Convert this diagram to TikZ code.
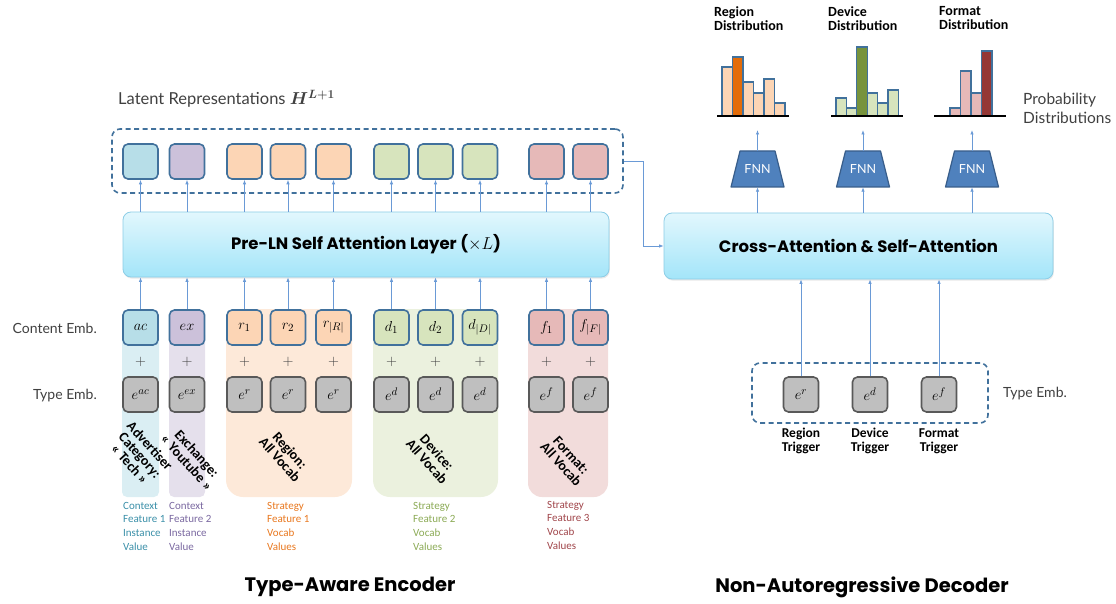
\documentclass[tikz,border=0pt]{standalone}
\usepackage{amsmath,bm}
\usepackage{fontspec}
\setmainfont{Carlito}
\newfontfamily\labfont{Lato}
\newfontfamily\headfont{Poppins}
\usetikzlibrary{arrows.meta,shapes.geometric,calc,shadows}
\definecolor{bordblue}{HTML}{41719C}
\definecolor{bordgray}{HTML}{595959}
\definecolor{graybox}{HTML}{BFBFBF}
\definecolor{cblue}{HTML}{B7DEE8}
\definecolor{cpurple}{HTML}{CCC1DA}
\definecolor{corange}{HTML}{FCD5B5}
\definecolor{cgreen}{HTML}{D7E4BD}
\definecolor{cpink}{HTML}{E6B9B8}
\definecolor{sblue}{HTML}{DAEEF3}
\definecolor{spurple}{HTML}{E5E0EC}
\definecolor{sorange}{HTML}{FDE9D9}
\definecolor{sgreen}{HTML}{EBF1DE}
\definecolor{spink}{HTML}{F2DCDB}
\definecolor{tblue}{HTML}{3A8FA8}
\definecolor{tpurple}{HTML}{7A68A0}
\definecolor{torange}{HTML}{E8771E}
\definecolor{tgreen}{HTML}{8BAA55}
\definecolor{tred}{HTML}{A0454A}
\definecolor{arrowc}{HTML}{6A9AD6}
\definecolor{dorange}{HTML}{E36C09}
\definecolor{dgreen}{HTML}{77933C}
\definecolor{dred}{HTML}{953735}
\definecolor{fnnfill}{HTML}{4F81BD}
\definecolor{fnnbord}{HTML}{385D8A}
\definecolor{graytext}{HTML}{404040}
\definecolor{attbord}{HTML}{8CCDE6}
\definecolor{atttop}{HTML}{E2F7FD}
\definecolor{attbot}{HTML}{A3E5F9}
\tikzset{
  cbox/.style={draw=bordblue, line width=1.6pt, rounded corners=5pt, minimum width=35pt, minimum height=35pt, inner sep=0pt, font=\fontsize{15.5}{15.5}\selectfont},
  tbox/.style={cbox, draw=bordgray, fill=graybox},
  arr/.style={draw=arrowc, line width=0.8pt, -{Latex[length=4.5pt,width=3.5pt]}},
  dashbox/.style={draw=bordblue, line width=1.6pt, dash pattern=on 5pt off 3.5pt, rounded corners=8pt, inner sep=0pt},
  attbox/.style={draw=attbord, line width=0.8pt, rounded corners=8pt, top color=atttop, bottom color=attbot, inner sep=0pt, font=\headfont\bfseries\fontsize{16.5}{18}\selectfont, drop shadow={opacity=0.18, shadow xshift=0.8pt, shadow yshift=-1.6pt}},
  rotlab/.style={rotate=-48, align=center, font=\bfseries\fontsize{14}{13.5}\selectfont},
  sidelab/.style={font=\labfont\fontsize{14}{16}\selectfont, text=graytext, inner sep=0pt},
  botlab/.style={anchor=north west, align=left, inner sep=0pt, font=\fontsize{11}{13.6}\selectfont},
  histlab/.style={anchor=north west, align=left, inner sep=0pt, font=\bfseries\fontsize{14}{14}\selectfont},
  triglab/.style={align=center, inner sep=0pt, font=\bfseries\fontsize{13.5}{14}\selectfont},
  fnn/.style={minimum width=35pt, minimum height=36pt, text=white, font=\labfont\fontsize{12.5}{12.5}\selectfont, inner sep=0pt},
  fnnshape/.style={fill=fnnfill, draw=fnnbord, line width=1.2pt, line join=round},
  bar/.style={draw=bordblue, line width=1.2pt},
  title/.style={font=\headfont\bfseries\fontsize{19.5}{21}\selectfont},
}
\begin{document}
\begin{tikzpicture}[x=1pt,y=-1pt]
\useasboundingbox (0,0) rectangle (1116,604);
% ---------- strips ----------
\fill[sblue, rounded corners=5pt] (122,330) rectangle (159,497);
\fill[spurple, rounded corners=5pt] (169,330) rectangle (205,497);
\fill[sorange, rounded corners=17pt] (226,309) rectangle (352,497);
\fill[sgreen, rounded corners=17pt] (373,309) rectangle (498,497);
\fill[spink, rounded corners=14pt] (528,309) rectangle (608,497);
% ---------- latent group ----------
\node[dashbox, minimum width=511pt, minimum height=64pt] (latent) at (367.5,161) {};
\node[sidelab, anchor=west, font=\labfont\fontsize{16.5}{18}\selectfont] (latlab) at (118,99) {Latent Representations $\bm{H}^{\bm{L+1}}$};
\node[attbox, minimum width=486pt, minimum height=65pt] (preln) at (366,244.5) {Pre-LN Self Attention Layer ($\times L$)};
% ---------- columns ----------
\foreach \n/\x/\c/\ct/\tt in {ac/140.5/cblue/{ac}/{e^{ac}}, ex/187/cpurple/{ex}/{e^{ex}},
  ra/244.5/corange/{r_1}/{e^{r}}, rb/288/corange/{r_2}/{e^{r}}, rc/333.5/corange/{r_{|R|}}/{e^{r}},
  da/391.5/cgreen/{d_1}/{e^{d}}, db/435.5/cgreen/{d_2}/{e^{d}}, dc/480/cgreen/{d_{|D|}}/{e^{d}},
  fa/546.5/cpink/{f_1}/{e^{f}}, fb/590.5/cpink/{f_{|F|}}/{e^{f}}}{
  \node[cbox, fill=\c] (L\n) at (\x,161.5) {};
  \node[cbox, fill=\c] (C\n) at (\x,327.5) {$\ct$};
  \node[inner sep=0pt, text=graytext, font=\fontsize{15}{15}\selectfont] (P\n) at (\x,362) {$+$};
  \node[tbox] (T\n) at (\x,394.5) {$\tt$};
  \draw[arr] (C\n.north) -- (C\n.north |- preln.south);
  \draw[arr] (L\n.south |- preln.north) -- (L\n.south);
}
\node[sidelab, anchor=east] (celab) at (97,328) {Content Emb.};
\node[sidelab, anchor=east] (telab) at (97,396) {Type Emb.};
% ---------- rotated labels ----------
\node[rotlab] (rl1) at (140,455) {Advertiser\\Category:\\« Tech »};
\node[rotlab] (rl2) at (192,458) {Exchange:\\« Youtube »};
\node[rotlab] (rl3) at (285,455) {Region:\\All Vocab};
\node[rotlab] (rl4) at (432,457) {Device:\\All Vocab};
\node[rotlab] (rl5) at (566,460) {Format:\\All Vocab};
% ---------- bottom labels ----------
\node[botlab, text=tblue] (b1) at (123,502) {Context\\Feature 1\\Instance\\Value};
\node[botlab, text=tpurple] (b2) at (169,502) {Context\\Feature 2\\Instance\\Value};
\node[botlab, text=torange] (b3) at (267,502) {Strategy\\Feature 1\\Vocab\\Values};
\node[botlab, text=tgreen] (b4) at (413,502) {Strategy\\Feature 2\\Vocab\\Values};
\node[botlab, text=tred] (b5) at (547,501) {Strategy\\Feature 3\\Vocab\\Values};
\node[title] (enc) at (350,587) {Type-Aware Encoder};
\node[title] (dec) at (862,587) {Non-Autoregressive Decoder};
% ---------- decoder ----------
\node[attbox, minimum width=389pt, minimum height=66pt] (cross) at (858.5,246) {Cross-Attention \& Self-Attention};
\draw[arr] (latent.east) -- ++(20,0) |- (cross.west);
\node[dashbox, minimum width=236pt, minimum height=60pt] (trig) at (870,393) {};
\foreach \n/\x/\tt/\lab in {ta/801/{e^{r}}/Region, tb/870/{e^{d}}/Device, tc/939/{e^{f}}/Format}{
  \node[tbox] (\n) at (\x,394.5) {$\tt$};
  \node[triglab] (\n lab) at (\x,441) {\lab\\Trigger};
  \draw[arr] (\n.north) -- (\n.north |- cross.south);
}
\node[sidelab, anchor=west] (tel2) at (1003,394) {Type Emb.};
\foreach \n/\x in {fa/757.5, fb/863, fc/972}{
  \coordinate (G\n) at (\x,169);
  \draw[fnnshape] ($(G\n)+(-17.5,-18)$) -- ($(G\n)+(17.5,-18)$) -- ($(G\n)+(26.5,18)$) -- ($(G\n)+(-26.5,18)$) -- cycle;
  \node[fnn] (F\n) at (G\n) {FNN};
  \coordinate (H\n) at (\x,130);
  \draw[arr] (cross.north -| F\n.south) -- (F\n.south);
  \draw[arr] (F\n.north) -- (H\n);
}
% ---------- histograms ----------
\foreach \i/\t in {0/67,1/57,2/82,3/93,4/79,5/103}{
  \pgfmathsetmacro{\xa}{722+10.5*\i}
  \ifnum\i=1 \def\bc{dorange}\else\def\bc{corange}\fi
  \draw[bar, fill=\bc] (\xa,116) rectangle (\xa+10.5,\t);
}
\foreach \i/\t in {0/98,1/108,2/47,3/93,4/103,5/90}{
  \pgfmathsetmacro{\xa}{836+10.4*\i}
  \ifnum\i=2 \def\bc{dgreen}\else\def\bc{cgreen}\fi
  \draw[bar, fill=\bc] (\xa,116) rectangle (\xa+10.4,\t);
}
\foreach \i/\t in {0/108,1/71,2/93,3/51}{
  \pgfmathsetmacro{\xa}{950+10.5*\i}
  \ifnum\i=3 \def\bc{dred}\else\def\bc{cpink}\fi
  \draw[bar, fill=\bc] (\xa,116) rectangle (\xa+10.5,\t);
}
\draw[line width=2pt] (717,116) -- (789,116);
\draw[line width=2pt] (831,116) -- (903,116);
\draw[line width=2pt] (934,116) -- (1006,116);
\node[histlab] (h1) at (714,6) {Region\\Distribution};
\node[histlab] (h2) at (828,6) {Device\\Distribution};
\node[histlab] (h3) at (939,6) {Format\\Distribution};
\node[sidelab, anchor=west, align=left, font=\labfont\fontsize{15.5}{19}\selectfont] (prob) at (1023,108) {Probability\\Distributions};
\end{tikzpicture}
\end{document}
